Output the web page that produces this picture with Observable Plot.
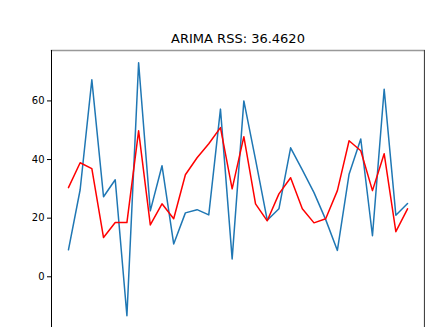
<!DOCTYPE html>
<html>
<head>
<meta charset="utf-8">
<script src="https://cdn.jsdelivr.net/npm/d3@7"></script>
<script src="https://cdn.jsdelivr.net/npm/@observablehq/plot@0.6"></script>
<style>
  html, body { margin: 0; padding: 0; background: #fff; overflow: hidden; }
  #chart svg { display: block; }
</style>
</head>
<body>
<div id="chart"></div>
<script>
const title = "ARIMA RSS: 36.4620";
const actual = [9.2, 29.7, 67.2, 27.3, 33.1, -13.3, 73, 22.5, 37.9, 11.2,
                21.8, 22.9, 21.1, 57.2, 6.1, 60, 40, 19.3, 23.2, 44,
                36.5, 28.7, 19.5, 9, 35, 47, 14, 64, 21, 25];
const fitted = [30.4, 38.9, 36.9, 13.4, 18.5, 18.5, 49.8, 17.7, 24.9, 19.8,
                34.8, 40.6, 45.4, 50.9, 30, 47.8, 24.9, 19.1, 28.3, 33.8,
                23.2, 18.4, 19.8, 29.4, 46.4, 43, 29.4, 42, 15.4, 23.2];
const yTicks = [0, 20, 40, 60];

const rows = actual.map((v, i) => ({i, actual: v, fitted: fitted[i]}));

const plot = Plot.plot({
  width: 425,
  height: 327,
  marginLeft: 51,
  marginRight: 1,
  marginTop: 50,
  marginBottom: 0,
  style: {fontFamily: "DejaVu Sans", fontSize: "10px", color: "#000", background: "#fff"},
  x: {domain: [-1.45, 30.45], axis: null},
  y: {domain: [-17.3, 77.2], ticks: yTicks, tickSize: 4, tickPadding: 3, label: null},
  marks: [
    Plot.frame({anchor: "top", stroke: "#999", strokeWidth: 1.5}),
    Plot.frame({anchor: "right", stroke: "#444", strokeWidth: 1.2}),
    Plot.frame({anchor: "left", stroke: "#000", strokeWidth: 1}),
    Plot.lineY(rows, {x: "i", y: "actual", stroke: "#1f77b4", strokeWidth: 1.5}),
    Plot.lineY(rows, {x: "i", y: "fitted", stroke: "red", strokeWidth: 1.5}),
    Plot.text([title], {frameAnchor: "top", dy: -8, text: d => d, fontSize: 13, fill: "#000", lineAnchor: "bottom"})
  ]
});
document.getElementById("chart").appendChild(plot);
</script>
</body>
</html>
